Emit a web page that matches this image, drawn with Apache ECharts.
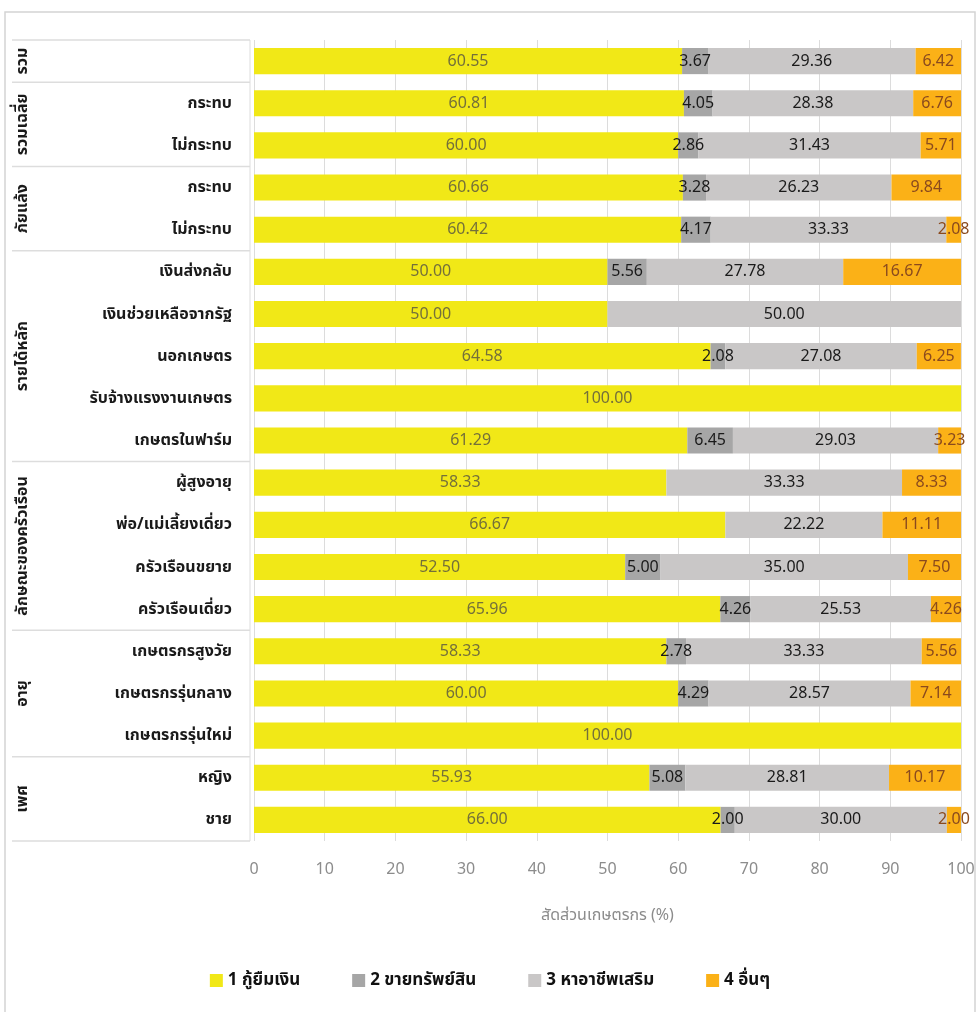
<!DOCTYPE html>
<html>
<head>
<meta charset="utf-8">
<script src="https://cdn.jsdelivr.net/npm/echarts@6/dist/echarts.min.js"></script>
<style>
html,body{margin:0;padding:0;background:#fff;}
#c{width:980px;height:1012px;}
</style>
</head>
<body>
<div id="c"></div>
<script>
const categories = ['','กระทบ','ไม่กระทบ','กระทบ','ไม่กระทบ','เงินส่งกลับ','เงินช่วยเหลือจากรัฐ','นอกเกษตร','รับจ้างแรงงานเกษตร','เกษตรในฟาร์ม','ผู้สูงอายุ','พ่อ/แม่เลี้ยงเดี่ยว','ครัวเรือนขยาย','ครัวเรือนเดี่ยว','เกษตรกรสูงวัย','เกษตรกรรุ่นกลาง','เกษตรกรรุ่นใหม่','หญิง','ชาย'];
const groupNames = ['รวม','รวมเฉลี่ย','ภัยแล้ง','รายได้หลัก','ลักษณะของครัวเรือน','อายุ','เพศ'];
const groupSizes = [1,2,2,5,4,3,2];
const seriesNames = ['1 กู้ยืมเงิน','2 ขายทรัพย์สิน','3 หาอาชีพเสริม','4 อื่นๆ'];
const s1 = [60.55,60.81,60.00,60.66,60.42,50.00,50.00,64.58,100.00,61.29,58.33,66.67,52.50,65.96,58.33,60.00,100.00,55.93,66.00];
const s2 = [3.67,4.05,2.86,3.28,4.17,5.56,0,2.08,0,6.45,0,0,5.00,4.26,2.78,4.29,0,5.08,2.00];
const s3 = [29.36,28.38,31.43,26.23,33.33,27.78,50.00,27.08,0,29.03,33.33,22.22,35.00,25.53,33.33,28.57,0,28.81,30.00];
const s4 = [6.42,6.76,5.71,9.84,2.08,16.67,0,6.25,0,3.23,8.33,11.11,7.50,4.26,5.56,7.14,0,10.17,2.00];
const xTicks = [0,10,20,30,40,50,60,70,80,90,100];

const colors = ['#F1E817','#A6A6A6','#C9C7C7','#FBB117'];
const labelColors = ['#74703a','#1a1a1a','#1a1a1a','#8a4a1e'];
const FONT = '"Noto Sans", "Noto Sans Thai", "Open Sans", sans-serif';

const chart = echarts.init(document.getElementById('c'));
const data = [s1,s2,s3,s4];
const option = {
  animation:false,
  backgroundColor:'#fff',
  textStyle:{fontFamily:FONT},
  grid:{left:254,right:19,top:40,bottom:171,containLabel:false,outerBoundsMode:'none'},
  legend:{
    bottom:18,left:'center',
    itemWidth:13,itemHeight:13,itemGap:52,
    icon:'rect',
    textStyle:{fontSize:17,color:'#111',fontWeight:'bold',fontFamily:FONT},
    data:seriesNames
  },
  xAxis:{
    type:'value',min:0,max:100,interval:10,
    axisLine:{show:false},axisTick:{show:false},
    splitLine:{lineStyle:{color:'#dcdcdc',width:1}},
    axisLabel:{color:'#8c8c8c',fontSize:16,margin:20,verticalAlign:'top',formatter:v=>xTicks.includes(v)?String(v):''},
    name:'สัดส่วนเกษตรกร (%)',nameLocation:'middle',nameGap:66,
    nameTextStyle:{color:'#8c8c8c',fontSize:16}
  },
  yAxis:{
    type:'category',inverse:true,data:categories,
    axisLine:{show:false},axisTick:{show:false},
    axisLabel:{color:'#1a1a1a',fontSize:16,fontWeight:'bold',margin:22}
  },
  series:data.map((arr,i)=>({
    name:seriesNames[i],type:'bar',stack:'total',barWidth:'62%',
    itemStyle:{color:colors[i]},
    label:{show:true,position:'inside',color:labelColors[i],fontSize:16,
      formatter:p=>p.value>0?p.value.toFixed(2):''},
    data:arr
  }))
};
chart.setOption(option);

function drawGroups(){
  const yAt = i => chart.convertToPixel({yAxisIndex:0}, i);
  const step = yAt(1)-yAt(0);
  const x0 = 12, x1 = 250;
  const els = [];
  els.push({type:'rect',shape:{x:5,y:12,width:970,height:1010},style:{fill:'none',stroke:'#d4d4d4',lineWidth:1.5},z:-1});
  const top = yAt(0)-step/2, bot = yAt(categories.length-1)+step/2;
  els.push({type:'line',shape:{x1:x1,y1:top,x2:x1,y2:bot},style:{stroke:'#dddddd',lineWidth:1}});
  els.push({type:'line',shape:{x1:x0,y1:top,x2:x1,y2:top},style:{stroke:'#dddddd',lineWidth:1.5}});
  let idx = 0;
  groupSizes.forEach((n,g)=>{
    const yS = yAt(idx)-step/2;
    const yE = yAt(idx+n-1)+step/2;
    els.push({type:'line',shape:{x1:x0,y1:yE,x2:x1,y2:yE},style:{stroke:'#dddddd',lineWidth:1.5}});
    els.push({type:'text',x:22,y:(yS+yE)/2,rotation:Math.PI/2,
      style:{text:groupNames[g],fill:'#1a1a1a',font:'bold 16px '+FONT,align:'center',verticalAlign:'middle'}});
    idx += n;
  });
  chart.setOption({graphic:{elements:els}});
}
drawGroups();
</script>
</body>
</html>
